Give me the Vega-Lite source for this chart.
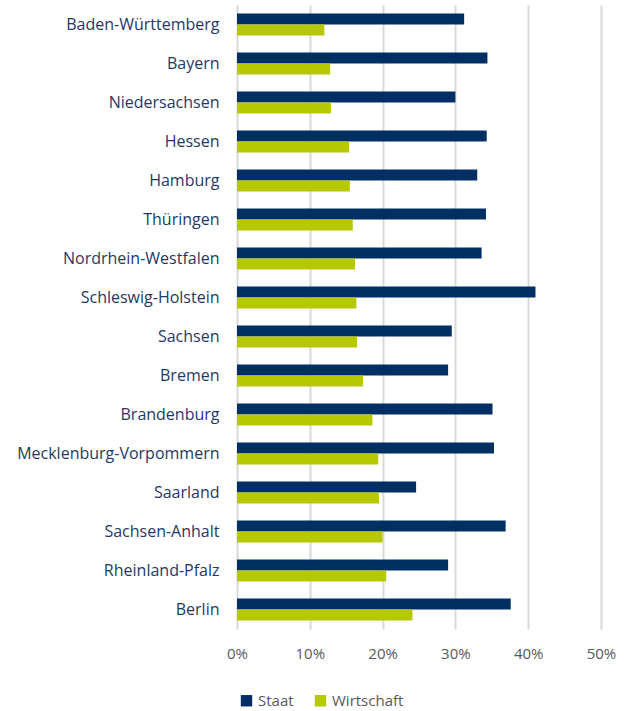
{
  "$schema": "https://vega.github.io/schema/vega-lite/v6.json",
  "autosize": {"type": "none"},
  "width": 364,
  "height": 624,
  "padding": {"left": 237, "top": 5, "right": 31, "bottom": 82},
  "background": "white",
  "config": {
    "view": {"stroke": null},
    "font": "Open Sans"
  },
  "data": {
    "values": [
      {"land": "Baden-Württemberg", "sektor": "Staat", "wert": 0.312},
      {"land": "Baden-Württemberg", "sektor": "Wirtschaft", "wert": 0.120},
      {"land": "Bayern", "sektor": "Staat", "wert": 0.344},
      {"land": "Bayern", "sektor": "Wirtschaft", "wert": 0.128},
      {"land": "Niedersachsen", "sektor": "Staat", "wert": 0.300},
      {"land": "Niedersachsen", "sektor": "Wirtschaft", "wert": 0.129},
      {"land": "Hessen", "sektor": "Staat", "wert": 0.343},
      {"land": "Hessen", "sektor": "Wirtschaft", "wert": 0.154},
      {"land": "Hamburg", "sektor": "Staat", "wert": 0.330},
      {"land": "Hamburg", "sektor": "Wirtschaft", "wert": 0.155},
      {"land": "Thüringen", "sektor": "Staat", "wert": 0.342},
      {"land": "Thüringen", "sektor": "Wirtschaft", "wert": 0.159},
      {"land": "Nordrhein-Westfalen", "sektor": "Staat", "wert": 0.336},
      {"land": "Nordrhein-Westfalen", "sektor": "Wirtschaft", "wert": 0.162},
      {"land": "Schleswig-Holstein", "sektor": "Staat", "wert": 0.410},
      {"land": "Schleswig-Holstein", "sektor": "Wirtschaft", "wert": 0.164},
      {"land": "Sachsen", "sektor": "Staat", "wert": 0.295},
      {"land": "Sachsen", "sektor": "Wirtschaft", "wert": 0.165},
      {"land": "Bremen", "sektor": "Staat", "wert": 0.290},
      {"land": "Bremen", "sektor": "Wirtschaft", "wert": 0.173},
      {"land": "Brandenburg", "sektor": "Staat", "wert": 0.351},
      {"land": "Brandenburg", "sektor": "Wirtschaft", "wert": 0.186},
      {"land": "Mecklenburg-Vorpommern", "sektor": "Staat", "wert": 0.353},
      {"land": "Mecklenburg-Vorpommern", "sektor": "Wirtschaft", "wert": 0.194},
      {"land": "Saarland", "sektor": "Staat", "wert": 0.246},
      {"land": "Saarland", "sektor": "Wirtschaft", "wert": 0.195},
      {"land": "Sachsen-Anhalt", "sektor": "Staat", "wert": 0.369},
      {"land": "Sachsen-Anhalt", "sektor": "Wirtschaft", "wert": 0.200},
      {"land": "Rheinland-Pfalz", "sektor": "Staat", "wert": 0.290},
      {"land": "Rheinland-Pfalz", "sektor": "Wirtschaft", "wert": 0.205},
      {"land": "Berlin", "sektor": "Staat", "wert": 0.376},
      {"land": "Berlin", "sektor": "Wirtschaft", "wert": 0.241}
    ]
  },
  "mark": {"type": "bar"},
  "encoding": {
    "y": {
      "field": "land",
      "type": "nominal",
      "sort": null,
      "scale": {"paddingInner": 0.44, "paddingOuter": 0.22},
      "axis": {
        "title": null,
        "domain": false,
        "ticks": false,
        "labelFontSize": 16,
        "labelColor": "#1f3864",
        "labelPadding": 18,
        "labelLimit": 240
      }
    },
    "yOffset": {"field": "sektor", "type": "nominal", "sort": ["Staat", "Wirtschaft"]},
    "x": {
      "field": "wert",
      "type": "quantitative",
      "scale": {"domain": [0, 0.5], "nice": false},
      "axis": {
        "title": null,
        "format": ".0%",
        "values": [0, 0.1, 0.2, 0.3, 0.4, 0.5],
        "domain": false,
        "ticks": false,
        "grid": true,
        "gridColor": "#d9d9d9",
        "gridWidth": 2,
        "labelFlush": false,
        "labelFontSize": 15,
        "labelColor": "#595959",
        "labelPadding": 17
      }
    },
    "color": {
      "field": "sektor",
      "type": "nominal",
      "scale": {"domain": ["Staat", "Wirtschaft"], "range": ["#003063", "#b5c800"]},
      "legend": {
        "title": null,
        "orient": "none",
        "direction": "horizontal",
        "legendX": 2,
        "legendY": 688,
        "symbolType": "square",
        "symbolSize": 130,
        "symbolStrokeWidth": 0,
        "labelFontSize": 15,
        "labelColor": "#595959",
        "columnPadding": 19,
        "labelOffset": 4
      }
    }
  }
}
